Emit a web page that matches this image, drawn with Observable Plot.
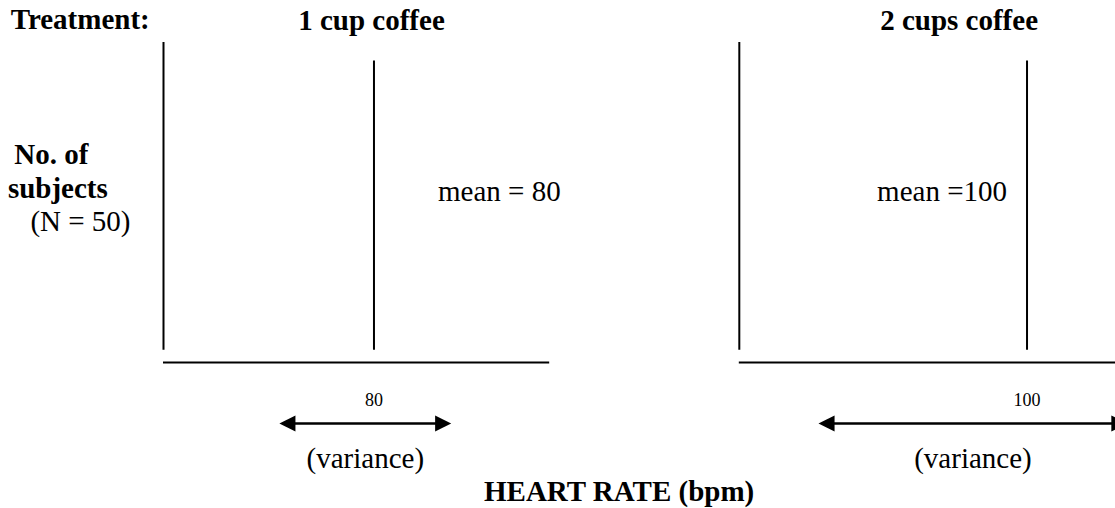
<!DOCTYPE html>
<html><head><meta charset="utf-8">
<script src="https://cdn.jsdelivr.net/npm/d3@7"></script>
<script src="https://cdn.jsdelivr.net/npm/@observablehq/plot@0.6"></script>
<style>
html,body{margin:0;padding:0;background:#fff;overflow:hidden;}
#chart{position:relative;width:1115px;height:508px;overflow:hidden;font-family:"Liberation Serif","Times New Roman",serif;color:#000;background:#fff;}
#chart svg{position:absolute;left:0;top:0;max-width:none !important;}
.lbl{position:absolute;white-space:nowrap;font-size:29px;line-height:29px;font-family:"Liberation Serif","Times New Roman",serif;color:#000;}
.b{font-weight:bold;}
</style></head><body><div id="chart"></div>
<script>
// ---- data ----
const treatments = ["1 cup coffee", "2 cups coffee"];
const means = [80, 100];
const sampleSize = 50;
const peakCounts = [47, 47];
const varianceLow = [55.5, 46];
const varianceHigh = [100, 126];
const meanLabels = ["mean = 80", "mean =100"];
const tickLabels = ["80", "100"];
const heartRateDomain = [25.5, 125.5];
const countDomain = [-2, 50];
const treatmentLabel = "Treatment:";
const axisTitleX = "HEART RATE (bpm)";
const axisTitleY = ["No. of", "subjects", "(N = 50)"];

const panels = treatments.map((t, i) => ({
  treatment: t, mean: means[i], peak: peakCounts[i],
  lo: varianceLow[i], hi: varianceHigh[i],
  mid: (varianceLow[i] + varianceHigh[i]) / 2,
  meanLabel: meanLabels[i], tick: tickLabels[i]
}));
const base = countDomain[0];

const rightTri = {draw(ctx, size) {
  const r = Math.sqrt(size / Math.PI), L = 2.3 * r, H = 1.15 * r;
  ctx.moveTo(0, 0); ctx.lineTo(-L, -H); ctx.lineTo(-L, H); ctx.closePath();
}};
const leftTri = {draw(ctx, size) {
  const r = Math.sqrt(size / Math.PI), L = 2.3 * r, H = 1.15 * r;
  ctx.moveTo(0, 0); ctx.lineTo(L, -H); ctx.lineTo(L, H); ctx.closePath();
}};

const serif = "Liberation Serif, Times New Roman, serif";

const chart = Plot.plot({
  width: 1125, height: 508,
  marginLeft: 163, marginRight: 0, marginTop: 42, marginBottom: 146,
  x: {domain: heartRateDomain, axis: null},
  y: {domain: countDomain, axis: null},
  fx: {domain: treatments, axis: null, paddingInner: 0.3293, paddingOuter: 0, round: false},
  style: {fontFamily: serif, background: "white", color: "black", overflow: "visible"},
  marks: [
    // y axis lines
    Plot.ruleX(panels, {fx: "treatment", x: () => heartRateDomain[0], y1: () => 0, y2: () => sampleSize, stroke: "black", strokeWidth: 2}),
    // x axis lines
    Plot.ruleY(panels, {fx: "treatment", y: () => base, x1: () => heartRateDomain[0], x2: () => heartRateDomain[1], stroke: "black", strokeWidth: 2}),
    // mean lines
    Plot.ruleX(panels, {fx: "treatment", x: "mean", y1: () => 0, y2: "peak", stroke: "black", strokeWidth: 2}),
    // variance arrows
    Plot.ruleY(panels, {fx: "treatment", y: () => base, x1: "lo", x2: "hi", dy: 61, stroke: "black", strokeWidth: 2.5, insetLeft: 8, insetRight: 8}),
    Plot.dot(panels, {fx: "treatment", x: "hi", y: () => base, dy: 61, r: 7, symbol: rightTri, fill: "black", stroke: "none"}),
    Plot.dot(panels, {fx: "treatment", x: "lo", y: () => base, dy: 61, r: 7, symbol: leftTri, fill: "black", stroke: "none"}),
    // mean tick labels
    Plot.text(panels, {fx: "treatment", x: "mean", text: "tick", frameAnchor: "bottom", lineAnchor: "bottom", dy: 43, fontSize: 18, fill: "black"}),
    // (variance) labels
    Plot.text(panels, {fx: "treatment", x: "mid", text: () => "(variance)", frameAnchor: "bottom", lineAnchor: "bottom", dy: 105, fontSize: 29, fill: "black"}),
    // mean labels
    Plot.text(panels.slice(0, 1), {fx: "treatment", x: "mean", text: "meanLabel", frameAnchor: "middle", lineAnchor: "bottom", textAnchor: "start", dx: 64, dy: -2, fontSize: 29, fill: "black"}),
    Plot.text(panels.slice(1), {fx: "treatment", x: "mean", text: "meanLabel", frameAnchor: "middle", lineAnchor: "bottom", textAnchor: "end", dx: -20, dy: -2, fontSize: 29, fill: "black"}),
    // treatment titles
    Plot.text(panels.slice(0, 1), {fx: "treatment", x: "mean", text: "treatment", frameAnchor: "top", lineAnchor: "bottom", dx: -2.5, dy: -12.5, fontSize: 29, fontWeight: "bold", fill: "black"}),
    Plot.text(panels.slice(1), {fx: "treatment", x: "mean", text: "treatment", frameAnchor: "top", lineAnchor: "bottom", textAnchor: "end", dx: 11, dy: -12.5, fontSize: 29, fontWeight: "bold", fill: "black"})
  ]
});
chart.style.maxWidth = "none";
const host = document.getElementById("chart");
host.appendChild(chart);

function addLabel(text, left, baseline, bold) {
  const el = document.createElement("div");
  el.className = "lbl" + (bold ? " b" : "");
  el.textContent = text;
  el.style.left = left + "px";
  el.style.top = (baseline - 24.3) + "px";
  host.appendChild(el);
}
addLabel(treatmentLabel, 10.7, 29.4, true);
addLabel(axisTitleY[0], 14.3, 164.5, true);
addLabel(axisTitleY[1], 7.9, 198.3, true);
addLabel(axisTitleY[2], 30.4, 231.5, false);
addLabel(axisTitleX, 484, 501, true);
</script></body></html>
